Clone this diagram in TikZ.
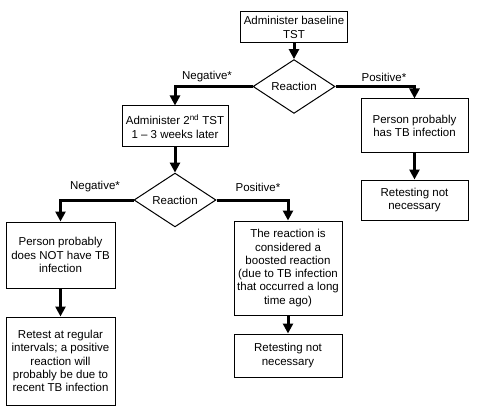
\documentclass[tikz,border=0pt]{standalone}
\usepackage{fontspec}
\setmainfont{Liberation Sans}
\usetikzlibrary{arrows.meta}
\usetikzlibrary{shapes.geometric}
\begin{document}
\begin{tikzpicture}[x=1pt,y=-1pt,every node/.style={font=\fontsize{11.5}{13.3}\selectfont},
    box/.style={draw,line width=1pt,align=center,inner sep=0pt,minimum width=107pt},
    decision/.style={draw,diamond,line width=1pt,inner sep=0pt,minimum width=82pt,minimum height=50pt},
    flow/.style={line width=3pt,-{Triangle[width=10pt,length=10pt]}},
    lbl/.style={inner sep=0pt}]

    \useasboundingbox[fill=white] (0,0) rectangle (480,412);

    \node[box,minimum height=31pt] (base) at (294,27.5) {Administer baseline\\TST};
    \node[decision] (d1) at (294,86.5) {Reaction};
    \node[box,minimum height=41pt,minimum width=106pt] (tst2) at (175,126.5) {Administer 2\textsuperscript{nd} TST\\1 -- 3 weeks later};
    \node[box,minimum height=54pt] (has) at (414.5,126) {Person probably\\has TB infection};
    \node[box,minimum height=40pt] (ret1) at (414.5,200) {Retesting not\\necessary};

    \node[decision] (d2) at (175,200) {Reaction};
    \node[box,minimum height=66pt,minimum width=109pt] (nothas) at (60.5,255) {Person probably\\does NOT have TB\\infection};
    \node[box,minimum height=88pt,minimum width=109pt] (regular) at (60.5,361) {Retest at regular\\intervals; a positive\\reaction will\\probably be due to\\recent TB infection};
    \node[box,minimum height=94pt,minimum width=108pt] (boost) at (288,268) {The reaction is\\considered a\\boosted reaction\\(due to TB infection\\that occurred a long\\time ago)};
    \node[box,minimum height=43pt,minimum width=108pt] (ret2) at (288,355.5) {Retesting not\\necessary};

    \node[lbl] (neg1) at (207,77) {Negative*};
    \node[lbl] (pos1) at (384,77) {Positive*};
    \node[lbl] (neg2) at (95,187) {Negative*};
    \node[lbl] (pos2) at (258,187) {Positive*};

    \draw[flow] (base) -- (d1);
    \draw[flow] (d1.west) -| (tst2.north);
    \draw[flow] (d1.east) -| (has.north);
    \draw[flow] (has) -- (ret1);
    \draw[flow] (tst2) -- (d2);
    \draw[flow] (d2.west) -| (nothas.north);
    \draw[flow] (d2.east) -| (boost.north);
    \draw[flow] (nothas) -- (regular);
    \draw[flow] (boost) -- (ret2);

\end{tikzpicture}
\end{document}
